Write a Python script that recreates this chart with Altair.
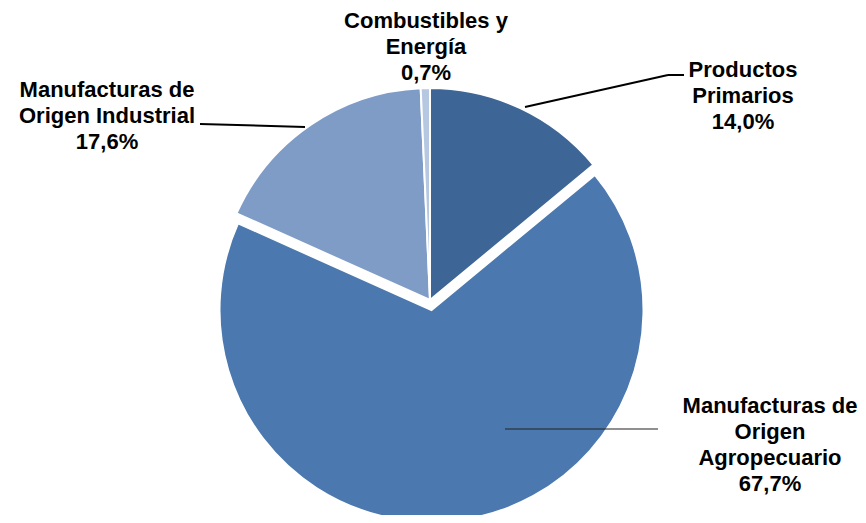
import altair as alt
import pandas as pd

categories = ["Productos Primarios", "Manufacturas de Origen Agropecuario",
              "Manufacturas de Origen Industrial", "Combustibles y Energía"]
label_names = ["Productos\nPrimarios", "Manufacturas de\nOrigen\nAgropecuario",
               "Manufacturas de\nOrigen Industrial", "Combustibles y\nEnergía"]
values = [14.0, 67.7, 17.6, 0.7]
colors = ["#3D6595", "#4A78AF", "#7F9CC7", "#B6C7E1"]

df = pd.DataFrame({
    "cat": categories,
    "value": values,
    "order": list(range(len(categories))),
    "label": [n + "\n" + f"{v:.1f}".replace(".", ",") + "%" for n, v in zip(label_names, values)],
})

base = alt.Chart(df).transform_window(
    end="sum(value)", sort=[alt.SortField("order")], frame=[None, 0]
).transform_calculate(start="datum.end - datum.value")

theta_scale = alt.Scale(domain=[0, 100], range=[0, 6.283185307])
color_scale = alt.Scale(domain=categories, range=colors)
R = 212

def arcs(filter_expr, cx, cy):
    return base.transform_filter(filter_expr).mark_arc(
        outerRadius=R, stroke="white", strokeWidth=2
    ).encode(
        theta=alt.Theta("start:Q", scale=theta_scale),
        theta2="end:Q",
        color=alt.Color("cat:N", scale=color_scale, legend=None),
        x=alt.value(cx), y=alt.value(cy),
    )

others = arcs("datum.cat != 'Manufacturas de Origen Agropecuario'", 422, 292)
moa = arcs("datum.cat == 'Manufacturas de Origen Agropecuario'", 423.5, 302)

def label(cat, x, y):
    return alt.Chart(df).transform_filter(alt.datum.cat == cat).mark_text(
        font="Liberation Sans", fontWeight="bold", fontSize=22, lineHeight=26,
        lineBreak="\n", align="center", baseline="alphabetic", color="black"
    ).encode(text="label:N", x=alt.value(x), y=alt.value(y))

def seg(x1, y1, x2, y2, w=2, c="black"):
    return alt.Chart(df).transform_filter("datum.order == 0").mark_rule(
        color=c, strokeWidth=w
    ).encode(x=alt.value(x1), y=alt.value(y1), x2=alt.value(x2), y2=alt.value(y2))

lines = [
    seg(517, 99, 660, 67),
    seg(660, 67, 676, 67),
    seg(192, 116, 297, 119),
    seg(497, 421, 650, 421, w=1.2, c="#222222"),
]

labels = [
    label(categories[0], 735, 69),
    label(categories[1], 762, 405),
    label(categories[2], 99, 89),
    label(categories[3], 418, 20),
]

chart = alt.layer(others, moa, *lines, *labels).properties(
    width=850, height=507, autosize=alt.AutoSizeParams(type="none"), padding=0
).configure_view(stroke=None)

chart.save("out.html", embed_options={"renderer": "svg", "actions": False})
